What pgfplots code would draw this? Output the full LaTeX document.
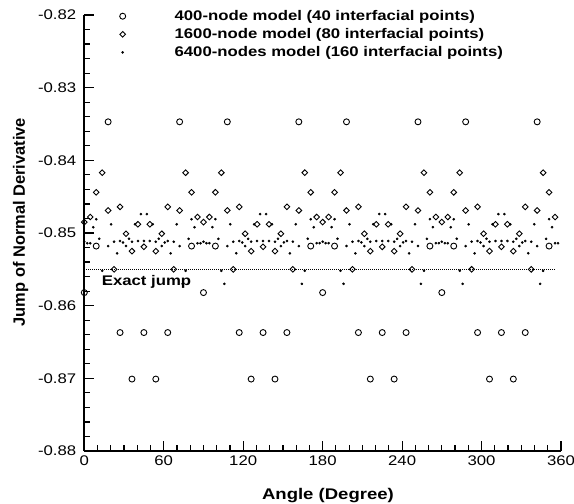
\documentclass[border=0pt]{standalone}
\usepackage{pgfplots}
\pgfplotsset{compat=1.18}
\usepackage{fontspec}
\setmainfont{Liberation Sans}[FakeStretch=1.2]
\newfontfamily\ylabfont{Liberation Sans}
\begin{document}
\begin{tikzpicture}
\begin{axis}[
  scale only axis,
  width=476.7bp, height=436bp,
  xmin=0, xmax=360, ymin=-0.88, ymax=-0.82,
  clip=false,
  axis x line*=bottom, axis y line*=left,
  xtick={0,60,120,180,240,300,360},
  xticklabels={0,60,120,180,240,300,360},
  ytick={-0.88,-0.87,-0.86,-0.85,-0.84,-0.83,-0.82},
  yticklabels={-0.88,-0.87,-0.86,-0.85,-0.84,-0.83,-0.82},
  minor x tick num=5, minor y tick num=4,
  tick pos=left, tick align=inside,
  major tick length=10bp, minor tick length=6bp,
  axis line style={line width=2bp, -},
  every tick/.style={black, line width=1.2bp},
  ticklabel style={font=\fontsize{14}{14}\selectfont},
  yticklabel style={xshift=-4.6bp},
  xticklabel style={yshift=-1.5bp},
  xlabel={Angle (Degree)},
  ylabel={Jump of Normal Derivative},
  xlabel style={at={(axis cs:184,-0.88674)}, anchor=base, font=\fontsize{15.5}{15.5}\selectfont\bfseries},
  ylabel style={at={(axis cs:-44.8,-0.8485)}, anchor=base, font=\fontsize{16.5}{16.5}\ylabfont\bfseries},
  legend image code/.code={\path (0bp,0bp) (59.7bp,0bp);
    \draw[mark repeat=2,mark phase=2,#1] plot coordinates {(0bp,0bp) (8bp,0bp) (16bp,0bp)};},
  legend cell align=left,
  legend style={at={(rel axis cs:0,1)}, anchor=north west, xshift=30bp, yshift=4.8bp,
    draw=none, fill=none, inner sep=0pt, nodes={inner sep=0pt}, row sep=6.5bp,
    font=\fontsize{14}{14}\selectfont\bfseries},
]
\addplot[only marks, mark=o, mark size=3bp, mark options={line width=0.9bp, black}] coordinates {
(0,-0.8582) (9,-0.8518) (18,-0.8347) (27,-0.8637) (36,-0.8701) (45,-0.8637) (54,-0.8701) (63,-0.8637) (72,-0.8347) (81,-0.8518)
(90,-0.8582) (99,-0.8518) (108,-0.8347) (117,-0.8637) (126,-0.8701) (135,-0.8637) (144,-0.8701) (153,-0.8637) (162,-0.8347) (171,-0.8518)
(180,-0.8582) (189,-0.8518) (198,-0.8347) (207,-0.8637) (216,-0.8701) (225,-0.8637) (234,-0.8701) (243,-0.8637) (252,-0.8347) (261,-0.8518)
(270,-0.8582) (279,-0.8518) (288,-0.8347) (297,-0.8637) (306,-0.8701) (315,-0.8637) (324,-0.8701) (333,-0.8637) (342,-0.8347) (351,-0.8518)
};
\addlegendentry{400-node model (40 interfacial points)}
\addplot[only marks, mark=square, mark size=2bp, mark options={rotate=45, line width=0.9bp, black}] coordinates {
(0,-0.8485) (4.5,-0.8478) (9,-0.8444) (13.5,-0.8417) (18,-0.8469) (22.5,-0.8550) (27,-0.8464) (31.5,-0.8501) (36,-0.8525) (40.5,-0.8488)
(45,-0.8519) (49.5,-0.8488) (54,-0.8525) (58.5,-0.8501) (63,-0.8464) (67.5,-0.8550) (72,-0.8469) (76.5,-0.8417) (81,-0.8444) (85.5,-0.8478)
(90,-0.8485) (94.5,-0.8478) (99,-0.8444) (103.5,-0.8417) (108,-0.8469) (112.5,-0.8550) (117,-0.8464) (121.5,-0.8501) (126,-0.8525) (130.5,-0.8488)
(135,-0.8519) (139.5,-0.8488) (144,-0.8525) (148.5,-0.8501) (153,-0.8464) (157.5,-0.8550) (162,-0.8469) (166.5,-0.8417) (171,-0.8444) (175.5,-0.8478)
(180,-0.8485) (184.5,-0.8478) (189,-0.8444) (193.5,-0.8417) (198,-0.8469) (202.5,-0.8550) (207,-0.8464) (211.5,-0.8501) (216,-0.8525) (220.5,-0.8488)
(225,-0.8519) (229.5,-0.8488) (234,-0.8525) (238.5,-0.8501) (243,-0.8464) (247.5,-0.8550) (252,-0.8469) (256.5,-0.8417) (261,-0.8444) (265.5,-0.8478)
(270,-0.8485) (274.5,-0.8478) (279,-0.8444) (283.5,-0.8417) (288,-0.8469) (292.5,-0.8550) (297,-0.8464) (301.5,-0.8501) (306,-0.8525) (310.5,-0.8488)
(315,-0.8519) (319.5,-0.8488) (324,-0.8525) (328.5,-0.8501) (333,-0.8464) (337.5,-0.8550) (342,-0.8469) (346.5,-0.8417) (351,-0.8444) (355.5,-0.8478)
};
\addlegendentry{1600-node model (80 interfacial points)}
\addplot[only marks, mark=*, mark size=1.1bp, mark options={black}] coordinates {
(0,-0.8512) (2.25,-0.8514) (4.5,-0.8514) (6.75,-0.8492) (9,-0.8481) (11.25,-0.8508) (13.5,-0.8552) (15.75,-0.8570) (18,-0.8518) (20.25,-0.8488)
(22.5,-0.8512) (24.75,-0.8528) (27,-0.8511) (29.25,-0.8513) (31.5,-0.8518) (33.75,-0.8508) (36,-0.8512) (38.25,-0.8488) (40.5,-0.8511) (42.75,-0.8474)
(45,-0.8511) (47.25,-0.8474) (49.5,-0.8511) (51.75,-0.8488) (54,-0.8512) (56.25,-0.8508) (58.5,-0.8518) (60.75,-0.8513) (63,-0.8511) (65.25,-0.8528)
(67.5,-0.8512) (69.75,-0.8488) (72,-0.8518) (74.25,-0.8570) (76.5,-0.8552) (78.75,-0.8508) (81,-0.8481) (83.25,-0.8492) (85.5,-0.8514) (87.75,-0.8514)
(90,-0.8512) (92.25,-0.8514) (94.5,-0.8514) (96.75,-0.8492) (99,-0.8481) (101.25,-0.8508) (103.5,-0.8552) (105.75,-0.8570) (108,-0.8518) (110.25,-0.8488)
(112.5,-0.8512) (114.75,-0.8528) (117,-0.8511) (119.25,-0.8513) (121.5,-0.8518) (123.75,-0.8508) (126,-0.8512) (128.25,-0.8488) (130.5,-0.8511) (132.75,-0.8474)
(135,-0.8511) (137.25,-0.8474) (139.5,-0.8511) (141.75,-0.8488) (144,-0.8512) (146.25,-0.8508) (148.5,-0.8518) (150.75,-0.8513) (153,-0.8511) (155.25,-0.8528)
(157.5,-0.8512) (159.75,-0.8488) (162,-0.8518) (164.25,-0.8570) (166.5,-0.8552) (168.75,-0.8508) (171,-0.8481) (173.25,-0.8492) (175.5,-0.8514) (177.75,-0.8514)
(180,-0.8512) (182.25,-0.8514) (184.5,-0.8514) (186.75,-0.8492) (189,-0.8481) (191.25,-0.8508) (193.5,-0.8552) (195.75,-0.8570) (198,-0.8518) (200.25,-0.8488)
(202.5,-0.8512) (204.75,-0.8528) (207,-0.8511) (209.25,-0.8513) (211.5,-0.8518) (213.75,-0.8508) (216,-0.8512) (218.25,-0.8488) (220.5,-0.8511) (222.75,-0.8474)
(225,-0.8511) (227.25,-0.8474) (229.5,-0.8511) (231.75,-0.8488) (234,-0.8512) (236.25,-0.8508) (238.5,-0.8518) (240.75,-0.8513) (243,-0.8511) (245.25,-0.8528)
(247.5,-0.8512) (249.75,-0.8488) (252,-0.8518) (254.25,-0.8570) (256.5,-0.8552) (258.75,-0.8508) (261,-0.8481) (263.25,-0.8492) (265.5,-0.8514) (267.75,-0.8514)
(270,-0.8512) (272.25,-0.8514) (274.5,-0.8514) (276.75,-0.8492) (279,-0.8481) (281.25,-0.8508) (283.5,-0.8552) (285.75,-0.8570) (288,-0.8518) (290.25,-0.8488)
(292.5,-0.8512) (294.75,-0.8528) (297,-0.8511) (299.25,-0.8513) (301.5,-0.8518) (303.75,-0.8508) (306,-0.8512) (308.25,-0.8488) (310.5,-0.8511) (312.75,-0.8474)
(315,-0.8511) (317.25,-0.8474) (319.5,-0.8511) (321.75,-0.8488) (324,-0.8512) (326.25,-0.8508) (328.5,-0.8518) (330.75,-0.8513) (333,-0.8511) (335.25,-0.8528)
(337.5,-0.8512) (339.75,-0.8488) (342,-0.8518) (344.25,-0.8570) (346.5,-0.8552) (348.75,-0.8508) (351,-0.8481) (353.25,-0.8492) (355.5,-0.8514) (357.75,-0.8514)
};
\addlegendentry{6400-nodes model (160 interfacial points)}
\addplot[forget plot, black, line width=0.8bp, dash pattern=on 0.8bp off 1.2bp] coordinates {(0,-0.855) (355.5,-0.855)};
\node[anchor=base west, inner sep=0pt, font=\fontsize{14}{14}\selectfont\bfseries] at (axis cs:13.1,-0.8572) {Exact jump};
\end{axis}
\pgfresetboundingbox
\path[use as bounding box] ([xshift=-84.3bp,yshift=-53bp]current axis.south west) rectangle ([xshift=13bp,yshift=15bp]current axis.north east);
\end{tikzpicture}
\end{document}
